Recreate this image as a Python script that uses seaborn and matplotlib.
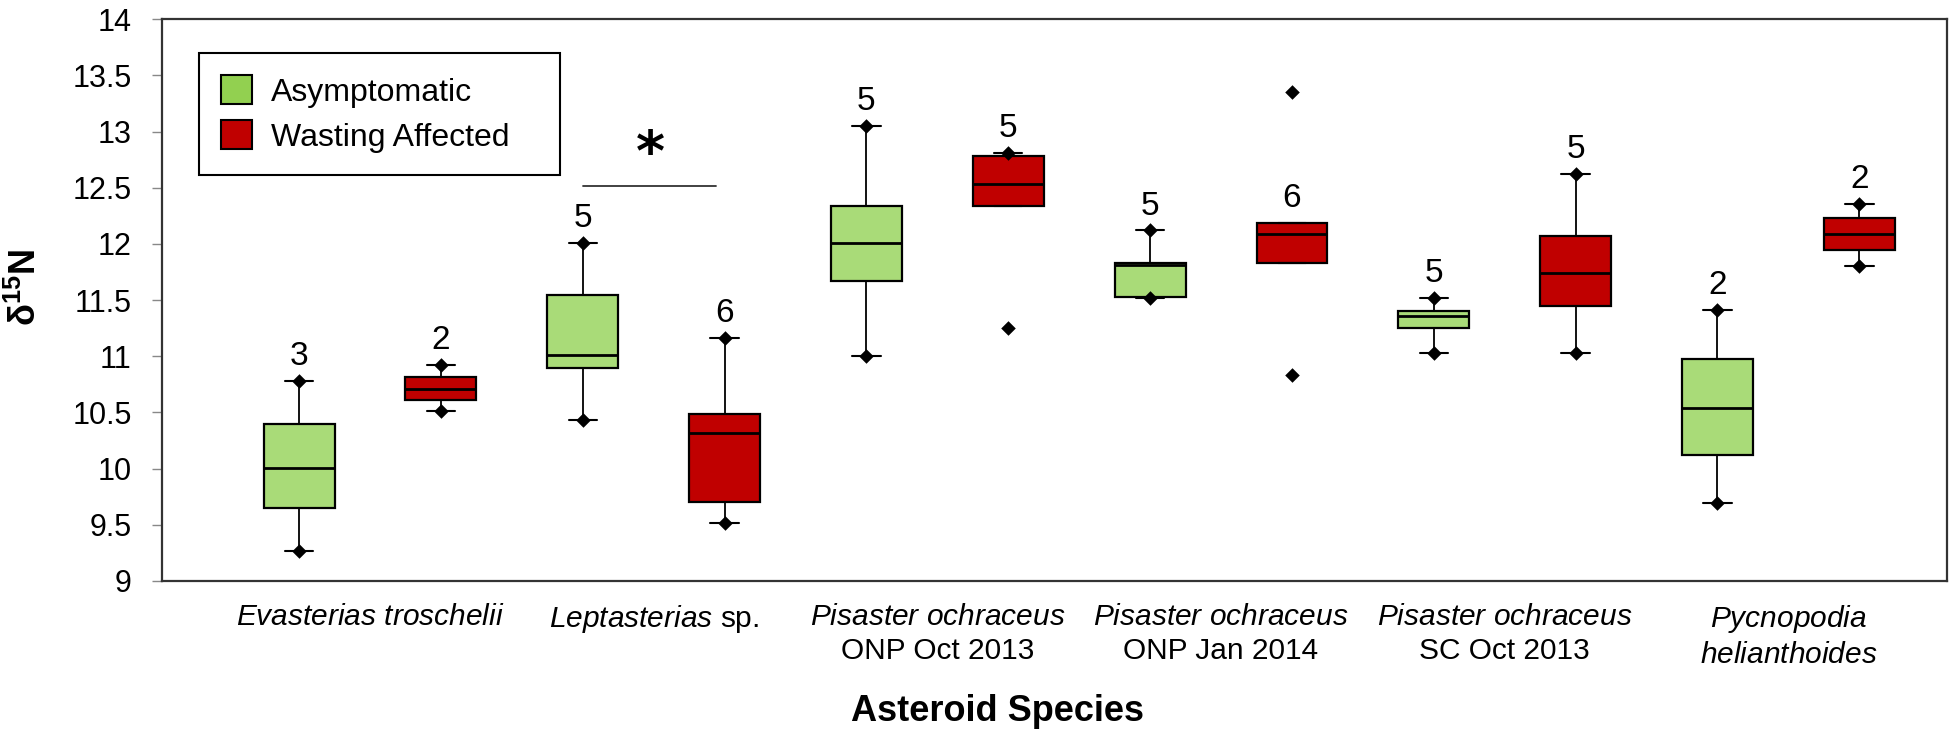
import numpy as np
import pandas as pd
import matplotlib
matplotlib.use('Agg')
import matplotlib.pyplot as plt
from matplotlib import font_manager
from matplotlib.patches import Patch
from matplotlib.ticker import FormatStrFormatter
import seaborn as sns

# Categories on the x axis
species = ['Evasterias troschelii', 'Leptasterias sp.', 'Pisaster ONP Oct 2013',
           'Pisaster ONP Jan 2014', 'Pisaster SC Oct 2013', 'Pycnopodia helianthoides']
species_labels = [
    r'$\mathit{Evasterias\ troschelii}$',
    r'$\mathit{Leptasterias}$ sp.',
    r'$\mathit{Pisaster\ ochraceus}$' + '\nONP Oct 2013',
    r'$\mathit{Pisaster\ ochraceus}$' + '\nONP Jan 2014',
    r'$\mathit{Pisaster\ ochraceus}$' + '\nSC Oct 2013',
    r'$\mathit{Pycnopodia}$' + '\n' + r'$\mathit{helianthoides}$',
]
status = ['Asymptomatic', 'Wasting Affected']

# Box summaries (whisker low, Q1, median, Q3, whisker high)
asym_low = [9.27, 10.43, 11.00, 11.52, 11.03, 9.69]
asym_q1 = [9.65, 10.90, 11.67, 11.53, 11.25, 10.12]
asym_med = [10.01, 11.01, 12.01, 11.81, 11.36, 10.54]
asym_q3 = [10.40, 11.55, 12.34, 11.83, 11.40, 10.98]
asym_high = [10.78, 12.01, 13.05, 12.12, 11.52, 11.41]

wast_low = [10.51, 9.52, 12.34, 11.83, 11.03, 11.80]
wast_q1 = [10.61, 9.70, 12.34, 11.83, 11.45, 11.95]
wast_med = [10.71, 10.32, 12.53, 12.09, 11.74, 12.09]
wast_q3 = [10.82, 10.49, 12.78, 12.19, 12.07, 12.23]
wast_high = [10.92, 11.16, 12.81, 12.19, 12.62, 12.36]

# Points beyond the whiskers (species index, status index, value)
outlier_species = [2, 3, 3]
outlier_status = [1, 1, 1]
outlier_values = [11.25, 13.35, 10.83]

# Sample sizes written above each box
n_asym = [3, 5, 5, 5, 5, 2]
n_wast = [2, 6, 5, 6, 5, 2]

# Significance marker between Leptasterias groups
sig_species = 1
sig_y = 12.52
star_y = 12.79

box_green = '#A9DB78'
box_red = '#C00000'
legend_green = '#92D050'

summaries = [
    (asym_low, asym_q1, asym_med, asym_q3, asym_high),
    (wast_low, wast_q1, wast_med, wast_q3, wast_high),
]

# long table: five summary values per box give back the same quartiles
rows = []
for j, summ in enumerate(summaries):
    for i, sp in enumerate(species):
        for arr in summ:
            rows.append({'species': sp, 'status': status[j], 'value': arr[i]})
df = pd.DataFrame(rows)

sns.set_style('ticks')
plt.rcParams['font.family'] = ['Liberation Sans', 'DejaVu Sans']
plt.rcParams['text.color'] = 'black'
plt.rcParams['axes.labelcolor'] = 'black'
plt.rcParams['xtick.labelcolor'] = 'black'
plt.rcParams['ytick.labelcolor'] = 'black'
plt.rcParams['mathtext.fontset'] = 'custom'
plt.rcParams['mathtext.rm'] = 'Liberation Sans'
plt.rcParams['mathtext.it'] = 'Liberation Sans:italic'
plt.rcParams['mathtext.bf'] = 'Liberation Sans:bold'

installed = {f.name for f in font_manager.fontManager.ttflist}
narrow = 'Liberation Sans Narrow' if 'Liberation Sans Narrow' in installed else 'Liberation Sans'

fig = plt.figure(figsize=(19.55, 7.48), dpi=100)
ax = fig.add_axes([0.0829, 0.2233, 0.9130, 0.7509])

group_width = 1.0
sns.boxplot(data=df, x='species', y='value', hue='status', order=species, hue_order=status,
            palette=[box_green, box_red], saturation=1, width=group_width, gap=0.5,
            whis=(0, 100), linecolor='black', linewidth=1.6, legend=False, ax=ax,
            capwidths=0.1,
            whiskerprops=dict(color='black', linewidth=1.3),
            capprops=dict(color='black', linewidth=1.5),
            medianprops=dict(color='black', linewidth=2),
            flierprops=dict(marker=''))

offsets = [-group_width / 4, group_width / 4]

# diamonds at whisker ends (skipped where the whisker collapses onto the box)
dx, dy = [], []
for j, (lo, q1, med, q3, hi) in enumerate(summaries):
    for i in range(len(species)):
        if lo[i] < q1[i]:
            dx.append(i + offsets[j]); dy.append(lo[i])
        if hi[i] > q3[i]:
            dx.append(i + offsets[j]); dy.append(hi[i])
ax.scatter(dx, dy, marker='D', s=55, color='black', zorder=5, linewidths=0)

ox = [i + offsets[j] for i, j in zip(outlier_species, outlier_status)]
ax.scatter(ox, outlier_values, marker='D', s=55, color='black', zorder=5, linewidths=0)

# sample sizes
for j, (counts, highs) in enumerate([(n_asym, asym_high), (n_wast, wast_high)]):
    for i in range(len(species)):
        ax.annotate(str(counts[i]), xy=(i + offsets[j], highs[i]), xytext=(0, 11.5),
                    textcoords='offset points', ha='center', va='baseline',
                    fontsize=24, color='black', family=[narrow, 'DejaVu Sans'])

# significance bar and star
ax.plot([sig_species + offsets[0], sig_species + offsets[1] - 0.03], [sig_y, sig_y],
        color='#333333', linewidth=1.3)
ax.text(sig_species - 0.01, star_y, '*', ha='center', va='center', fontsize=40,
        color='black', family='DejaVu Sans', fontweight='bold')

ax.set_xlim(-0.733, 5.559)
ax.set_ylim(9, 14)
ax.set_yticks(np.arange(9, 14.01, 0.5))
ax.yaxis.set_major_formatter(FormatStrFormatter('%g'))
ax.set_xticks(range(len(species)))
ax.set_xticklabels(species_labels, fontsize=21.5, linespacing=1.25, color='black')
ax.tick_params(axis='x', length=0, pad=16)
ax.tick_params(axis='y', labelsize=22, length=7, width=1, color='#888888',
               labelcolor='black', pad=15)

for side in ['left', 'right', 'top', 'bottom']:
    ax.spines[side].set_visible(True)
    ax.spines[side].set_color('#333333')
    ax.spines[side].set_linewidth(1.6)

ax.set_xlabel('Asteroid Species', fontsize=26, fontweight='bold', color='black')
ax.xaxis.set_label_coords(0.468, -0.201)
ax.set_ylabel(r'δ$^{\mathbf{15}}$N', fontsize=26, fontweight='bold', color='black')
ax.yaxis.set_label_coords(-0.066, 0.522)

handles = [Patch(facecolor=legend_green, edgecolor='black', linewidth=1.5, label=status[0]),
           Patch(facecolor=box_red, edgecolor='black', linewidth=1.5, label=status[1])]
leg = ax.legend(handles=handles, loc='upper left', bbox_to_anchor=(0.0207, 0.0, 0.2022, 0.940),
                mode='expand', borderaxespad=0, fontsize=23, handlelength=0.96,
                handleheight=1.0, handletextpad=0.6, labelspacing=0.4, borderpad=0.7,
                fancybox=False, edgecolor='black', framealpha=1)
leg.get_frame().set_linewidth(1.5)
for t in leg.get_texts():
    t.set_color('black')

fig.savefig('out.png', dpi=100)
